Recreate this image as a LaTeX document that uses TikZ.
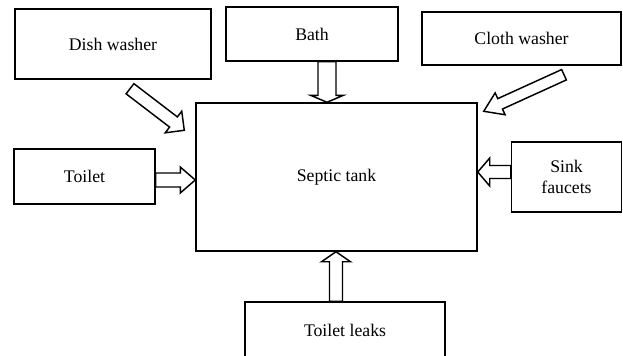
\documentclass[tikz,border=0pt]{standalone}
\usepackage{fontspec}
\setmainfont{Liberation Serif}
\usetikzlibrary{calc}
\def\u{0.75pt}
\newcommand\blockarr[5]{%
  \coordinate (h) at ($(#2)!#5*0.75pt!(#1)$);
  \draw[barrow] ($(#1)!#3*0.75pt!90:(#2)$) -- ($(h)!#3*0.75pt!90:(#2)$) -- ($(h)!#4*0.75pt!90:(#2)$) -- (#2) -- ($(h)!#4*0.75pt!-90:(#2)$) -- ($(h)!#3*0.75pt!-90:(#2)$) -- ($(#1)!#3*0.75pt!-90:(#2)$) -- cycle;
}
\tikzset{
  box/.style={draw, line width=1.1pt, rectangle, inner sep=0pt, align=center, font=\fontsize{13.3}{15.5}\selectfont},
  barrow/.style={draw, line width=1.1pt, fill=white, line join=miter},
}
\begin{document}
\begin{tikzpicture}[x=0.75pt,y=-0.75pt]
\useasboundingbox (0,0) rectangle (623,355);
\clip (0,0) rectangle (623,355);
\node[box, minimum width=196*\u, minimum height=70*\u] (dish) at (113,44) {Dish washer};
\node[box, minimum width=172*\u, minimum height=54*\u] (bath) at (312,34) {Bath};
\node[box, minimum width=199*\u, minimum height=53*\u] (cloth) at (521.5,38.5) {Cloth washer};
\node[box, minimum width=281*\u, minimum height=148*\u] (tank) at (336.5,177) {Septic tank};
\node[box, minimum width=141*\u, minimum height=55*\u] (toilet) at (84.5,176.5) {Toilet};
\node[box, minimum width=110*\u, minimum height=70*\u] (sink) at (566.5,177) {Sink\\faucets};
\node[box, minimum width=200*\u, minimum height=56*\u] (leaks) at (345,330) {Toilet leaks};
% connectors
\coordinate (bathA) at ($(bath.south)+(15,0)$);
\coordinate (bathB) at ($(tank.north)+(-9.5,0)$);
\blockarr{bathA}{bathB}{9}{16.5}{7}
\coordinate (toilA) at ($(toilet.east)+(0,3.5)$);
\coordinate (toilB) at ($(tank.west)+(0,3)$);
\blockarr{toilA}{toilB}{7}{13}{15}
\coordinate (sinkA) at ($(sink.west)+(0,-5)$);
\coordinate (sinkB) at ($(tank.east)+(0,-5)$);
\blockarr{sinkA}{sinkB}{6.5}{14}{12}
\coordinate (leakA) at ($(leaks.north)+(-9,0)$);
\coordinate (leakB) at ($(tank.south)+(-0.5,0)$);
\blockarr{leakA}{leakB}{6.5}{14.5}{10}
\coordinate (dishA) at ($(dish.south)+(17,9)$);
\coordinate (dishB) at ($(tank.north west)+(-11,28)$);
\blockarr{dishA}{dishB}{6.4}{13.6}{13.6}
\coordinate (clothA) at ($(cloth.south)+(42.5,9)$);
\coordinate (clothB) at ($(tank.north east)+(6,9)$);
\blockarr{clothA}{clothB}{5.7}{12}{18}
\end{tikzpicture}
\end{document}
